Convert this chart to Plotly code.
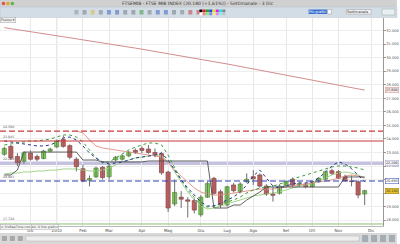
import plotly.graph_objects as go
import pandas as pd

# ---------------- data ----------------
weeks = pd.date_range("2009-11-09", periods=56, freq="7D").strftime("%Y-%m-%d").tolist()

opens = [22870, 23450, 22700, 22350, 22950, 22700, 22550, 23100, 23400, 23950,
         23500, 22500, 21800, 20950, 21200, 21900, 21210, 22450, 22500, 22750,
         23150, 23300, 23250, 23000, 22900, 21550, 19200, 19700, 19500, 19450,
         18400, 19700, 21090, 20100, 19120, 20600, 20100, 20840, 21210, 21340,
         20520, 19930, 19990, 20550, 21020, 20600, 20670, 20480, 20850, 21020,
         21650, 21580, 21210, 20900, 20840, 19930]
highs = [23420, 23550, 22950, 23100, 23150, 22850, 23200, 23350, 23950, 24250,
         23600, 22650, 22100, 21300, 21950, 22000, 22150, 22750, 22850, 23100,
         23300, 23450, 23550, 23300, 23050, 21650, 21000, 20150, 19700, 19600,
         19850, 20850, 21200, 20250, 20550, 20750, 20800, 21460, 21700, 21450,
         20650, 20600, 20650, 20950, 21150, 20850, 20800, 20950, 21200, 21650,
         21800, 21700, 21350, 21300, 20950, 20250]
lows = [22750, 22450, 22000, 22150, 22400, 22350, 22500, 23000, 23350, 23350,
        22500, 21600, 20800, 20500, 21100, 21000, 21000, 22350, 22400, 22650,
        22900, 22950, 22900, 22650, 21350, 18600, 19050, 18900, 18200, 18500,
        18260, 19650, 19900, 18880, 19000, 20050, 20000, 20750, 20600, 20400,
        19800, 19370, 19900, 20450, 20450, 20450, 20350, 20400, 20750, 20950,
        21350, 21050, 20850, 20500, 19620, 19120]
closes = [23300, 22600, 22250, 22980, 22500, 22500, 23100, 23250, 23850, 23450,
          22650, 21950, 20900, 21080, 21850, 21150, 22000, 22650, 22750, 23000,
          23000, 23150, 23000, 22800, 21500, 18900, 20050, 19550, 19400, 18750,
          19700, 20700, 19990, 19120, 20470, 20180, 20670, 21020, 21060, 20520,
          19930, 19840, 20520, 20850, 20580, 20700, 20480, 20850, 21090, 21580,
          21460, 21100, 20920, 20850, 19860, 20180]

ma200 = [32210, 32140, 32060, 31990, 31910, 31840, 31760, 31690, 31610, 31540,
         31460, 31390, 31310, 31240, 31160, 31080, 31010, 30930, 30850, 30780,
         30700, 30620, 30540, 30460, 30380, 30300, 30220, 30140, 30060, 29980,
         29890, 29800, 29710, 29620, 29530, 29440, 29350, 29260, 29170, 29080,
         28990, 28900, 28810, 28720, 28630, 28540, 28450, 28360, 28270, 28180,
         28090, 28000, 27900, 27800, 27700, 27600]
navy_line = [23850, 23770, 23700, 23620, 23550, 23480, 23480, 23550, 23770, 24070,
             24140, 23920, 23480, 22960, 22590, 22300, 22150, 22220, 22300, 22440,
             22590, 22660, 22740, 22810, 22960, 22440, 21700, 20970, 20380, 19860,
             19340, 19050, 19050, 19270, 19490, 19710, 20080, 20600, 21260, 21700,
             21110, 20520, 20380, 20520, 20670, 20750, 20750, 20820, 21110, 21550,
             22000, 22300, 22150, 21800, 21350, 20850]
green_dotted = [23550, 23620, 23700, 23770, 23850, 23850, 23920, 23990, 24140, 24290,
                24290, 24140, 23770, 23180, 22590, 22220, 22300, 22590, 22890, 23180,
                23400, 23550, 23700, 23700, 23550, 22810, 21850, 20970, 20230, 19640,
                19120, 18970, 19050, 19200, 19340, 19490, 19710, 20010, 20230, 20380,
                20450, 20520, 20670, 20820, 21040, 21190, 21340, 21480, 21630, 21780,
                21930, 22000, 22000, 21930, 21850, 21700]
green_solid = [21410, 21480, 21480, 21560, 21560, 21630, 21630, 21700, 21700, 21780,
               21780, 21780, 21700, 21630, 21630, 21700, 21850, 22070, 22300, 22440,
               22590, 22660, 22740, 22810, 22740, 22300, 21560, 20820, 20080, 19490,
               19050, 18830, 18900, 19050, 19200, 19340, 19490, 19640, 19790, 19860,
               19930, 20010, 20080, 20230, 20380, 20520, 20600, 20750, 20890, 21110,
               21340, 21480, 21560, 21480, 21340, 21110]
salmon_line = [None, None, None, None, None, None, None, None, None, None,
               None, 24580, 24440, 23920, 23480, 23330, 23260, 23180, 23110, 23030,
               22960, 22890, 22810, 22740, 22660, 22220, 21700, 21260, 20820, 20380,
               20080, 19930, 19860, 19860, 19930, 20010, 20080, 20160, 20230, 20300,
               20300, 20300, 20380, 20450, 20520, 20600, 20670, 20750, 20820, 20890,
               20970, 21110, 21260, 21340, 21260, 21110]
black_step = [21340, 21340, 21700, 23030, 23030, 23030, 23030, 23030, 23030, 23030,
              23030, 23030, 22440, 22440, 22440, 22300, 22300, 22300, 22300, 22300,
              22300, 22300, 22370, 22370, 22370, 22370, 22370, 22370, 22370, 22370,
              22370, 22370, 18900, 18900, 18900, 19120, 19120, 19490, 19790, 20080,
              20450, 20450, 20450, 20450, 20450, 20450, 20450, 20450, 20450, 20450,
              20450, 20450, 21190, 21190, 21190, 21190]

level_red_dash = 24580
level_red = 23845
level_band = 22200
level_blue_dash = 20893
level_green = 17720

month_ticks = ["2009-12-07", "2010-01-04", "2010-02-01", "2010-03-01", "2010-04-05",
               "2010-05-03", "2010-06-07", "2010-07-05", "2010-08-02", "2010-09-06",
               "2010-10-04", "2010-11-01", "2010-12-06"]
month_labels = ["Dic", "2010", "Feb", "Mar", "Apr", "Mag", "Giu", "Lug", "Ago", "Set",
                "Ott", "Nov", "Dic"]

title_text = "FTSEMIB - FTSE MIB INDEX (20.180 (+1,61%)) - Settimanale - 3 Dic"

UP_FILL, UP_LINE = "#7fd253", "#4a8a35"
DN_FILL, DN_LINE = "#d25e5e", "#8a3a3a"
WICK = "#6e6e6e"

# ---------------- figure ----------------
fig = go.Figure()

fig.add_trace(go.Scatter(x=weeks, y=ma200, mode="lines",
                         line=dict(color="#d38c8c", width=1), showlegend=False))
fig.add_trace(go.Scatter(x=weeks, y=green_solid, mode="lines",
                         line=dict(color="#a3d68a", width=1), showlegend=False))
fig.add_trace(go.Scatter(x=weeks, y=salmon_line, mode="lines",
                         line=dict(color="#e39a90", width=1), showlegend=False))
fig.add_trace(go.Scatter(x=weeks, y=black_step, mode="lines",
                         line=dict(color="#3a3a3a", width=0.8), showlegend=False))
fig.add_trace(go.Scatter(x=weeks, y=green_dotted, mode="lines",
                         line=dict(color="#3a9e3a", width=1, dash="dot"), showlegend=False))
fig.add_trace(go.Scatter(x=weeks, y=navy_line, mode="lines",
                         line=dict(color="#26348f", width=1, dash="dot"), showlegend=False))

# wicks
wx, wy = [], []
for d, h, l in zip(weeks, highs, lows):
    wx += [d, d, None]
    wy += [l, h, None]
fig.add_trace(go.Scatter(x=wx, y=wy, mode="lines", line=dict(color=WICK, width=1),
                         showlegend=False, hoverinfo="skip"))

# candle bodies
body_base = [min(o, c) for o, c in zip(opens, closes)]
body_len = [max(abs(c - o), 25) for o, c in zip(opens, closes)]
fills = [UP_FILL if c >= o else DN_FILL for o, c in zip(opens, closes)]
edges = [UP_LINE if c >= o else DN_LINE for o, c in zip(opens, closes)]
fig.add_trace(go.Bar(x=weeks, y=body_len, base=body_base, width=4.4 * 86400000,
                     marker=dict(color=fills, line=dict(color=edges, width=0.7)),
                     showlegend=False))

shapes = []
shapes.append(dict(type="line", xref="paper", x0=0, x1=1, yref="y", y0=level_band, y1=level_band,
                   line=dict(color="#c4c2de", width=3.5), layer="below"))
shapes.append(dict(type="line", xref="paper", x0=0, x1=1, yref="y", y0=level_red_dash, y1=level_red_dash,
                   line=dict(color="#cc3838", width=1.2, dash="6px,3px")))
shapes.append(dict(type="line", xref="paper", x0=0, x1=1, yref="y", y0=level_red, y1=level_red,
                   line=dict(color="#cc3838", width=1.2)))
shapes.append(dict(type="line", xref="paper", x0=0, x1=1, yref="y", y0=level_blue_dash, y1=level_blue_dash,
                   line=dict(color="#2f3fb8", width=1.2, dash="6px,3px")))
shapes.append(dict(type="line", xref="paper", x0=0, x1=1, yref="y", y0=level_green, y1=level_green,
                   line=dict(color="#8cc070", width=1)))
shapes.append(dict(type="line", xref="x", x0="2010-01-04", x1="2010-01-04", yref="paper", y0=0, y1=1,
                   line=dict(color="#c4c4c4", width=1), layer="below"))

def px_x(p):
    return p / 386.0

def px_y(p):
    return (226.0 - p) / 208.0

shapes.append(dict(type="rect", xref="paper", yref="paper", x0=px_x(0), x1=px_x(400),
                   y0=px_y(7), y1=px_y(0), fillcolor="#d0d0d0", line=dict(width=0), layer="above"))
shapes.append(dict(type="rect", xref="paper", yref="paper", x0=px_x(0), x1=px_x(400),
                   y0=px_y(17.5), y1=px_y(7), fillcolor="#d3dde6", line=dict(color="#b9c3cc", width=0.5), layer="above"))
for cx, col in [(3.5, "#e0524a"), (8, "#e0a62c"), (12.5, "#5cb84a")]:
    shapes.append(dict(type="circle", xref="paper", yref="paper", x0=px_x(cx - 1.8), x1=px_x(cx + 1.8),
                       y0=px_y(5.3), y1=px_y(1.7), fillcolor=col, line=dict(width=0), layer="above"))
icon_cols = ["#8a8f96", "#707a86", "#d8b840", "#7a8088", "#3f63c0", "#3f63c0", "#707a86", "#707a86",
             "#3f9a3f", "#7a8088", "#3f63c0", "#3f63c0", "#707a86", "#7a8088", "#c04040", "#c04040"]
for i, col in enumerate(icon_cols):
    x0 = 75 + i * 8.2
    shapes.append(dict(type="rect", xref="paper", yref="paper", x0=px_x(x0), x1=px_x(x0 + 4),
                       y0=px_y(14.5), y1=px_y(10), fillcolor=col, opacity=0.55, line=dict(width=0), layer="above"))
pal = ["#000000", "#e02020", "#20a020", "#2040e0", "#e0e020", "#e020e0", "#20e0e0", "#808080",
       "#ffffff", "#f08080", "#80f080", "#8080f0", "#f0f080", "#f080f0", "#80f0f0", "#c0c0c0"]
for i, col in enumerate(pal):
    r, c = divmod(i, 8)
    x0 = 201 + c * 3.3
    y0 = 9.5 + r * 3
    shapes.append(dict(type="rect", xref="paper", yref="paper", x0=px_x(x0), x1=px_x(x0 + 3),
                       y0=px_y(y0 + 2.7), y1=px_y(y0), fillcolor=col, line=dict(width=0), layer="above"))
shapes.append(dict(type="rect", xref="paper", yref="paper", x0=px_x(311), x1=px_x(330),
                   y0=px_y(14), y1=px_y(9.5), fillcolor="#3a6fd0", line=dict(width=0), layer="above"))
shapes.append(dict(type="rect", xref="paper", yref="paper", x0=px_x(330), x1=px_x(334),
                   y0=px_y(14), y1=px_y(9.5), fillcolor="#ffffff", line=dict(color="#999", width=0.5), layer="above"))
shapes.append(dict(type="rect", xref="paper", yref="paper", x0=px_x(349), x1=px_x(374),
                   y0=px_y(14), y1=px_y(9.5), fillcolor="#f4f4f4", line=dict(color="#999", width=0.5), layer="above"))
shapes.append(dict(type="rect", xref="paper", yref="paper", x0=px_x(385), x1=px_x(398),
                   y0=px_y(15), y1=px_y(9), fillcolor="#e8eef2", line=dict(color="#9aa", width=0.5), layer="above"))
shapes.append(dict(type="rect", xref="paper", yref="paper", x0=px_x(0), x1=px_x(400),
                   y0=px_y(244), y1=px_y(233), fillcolor="#d8d8d8", line=dict(width=0), layer="above"))
shapes.append(dict(type="rect", xref="paper", yref="paper", x0=px_x(26), x1=px_x(362),
                   y0=px_y(241), y1=px_y(236), fillcolor="#eeeeee", line=dict(color="#b0b0b0", width=0.5), layer="above"))
for i in range(3):
    x0 = 2 + i * 8
    shapes.append(dict(type="rect", xref="paper", yref="paper", x0=px_x(x0), x1=px_x(x0 + 5),
                       y0=px_y(241), y1=px_y(236), fillcolor="#8a8a8a", opacity=0.6, line=dict(width=0), layer="above"))
for i in range(4):
    x0 = 365 + i * 9
    shapes.append(dict(type="rect", xref="paper", yref="paper", x0=px_x(x0), x1=px_x(x0 + 6),
                       y0=px_y(242), y1=px_y(235), fillcolor="#6f7f8f", opacity=0.5, line=dict(width=0), layer="above"))

annotations = []
annotations.append(dict(xref="paper", yref="paper", x=px_x(200), y=px_y(3.5), text=title_text,
                        showarrow=False, font=dict(size=4.5, color="#333333"), xanchor="center", yanchor="middle"))
annotations.append(dict(xref="paper", yref="paper", x=px_x(320), y=px_y(11.7), text="Più grafici",
                        showarrow=False, font=dict(size=3.5, color="#ffffff"), xanchor="center", yanchor="middle"))
annotations.append(dict(xref="paper", yref="paper", x=px_x(360), y=px_y(11.7), text="Settimanale",
                        showarrow=False, font=dict(size=3.5, color="#333333"), xanchor="center", yanchor="middle"))
annotations.append(dict(xref="paper", yref="paper", x=px_x(0.5), y=px_y(20.5), text="Prezzo ▾",
                        showarrow=False, font=dict(size=3.3, color="#444"), xanchor="left", yanchor="middle",
                        bgcolor="#eeeeee", bordercolor="#aaaaaa", borderwidth=0.5, borderpad=0.5))
annotations.append(dict(xref="paper", yref="paper", x=px_x(0.5), y=px_y(226.5), text="© ProRealTime.com",
                        showarrow=False, font=dict(size=3, color="#444"), xanchor="left", yanchor="middle",
                        bgcolor="#f4f4f4", bordercolor="#aaaaaa", borderwidth=0.5, borderpad=0.3))
annotations.append(dict(xref="paper", yref="paper", x=px_x(31), y=px_y(226.5), text="Alt. G fine grafico",
                        showarrow=False, font=dict(size=3, color="#444"), xanchor="left", yanchor="middle",
                        bgcolor="#f4f4f4", bordercolor="#aaaaaa", borderwidth=0.5, borderpad=0.3))

def fmt(v):
    return f"{v:,.0f}".replace(",", ".")

for lv in [level_red_dash, level_red, level_band, level_blue_dash, level_green]:
    annotations.append(dict(xref="paper", yref="y", x=0.002, y=lv, text=fmt(lv), showarrow=False,
                            font=dict(size=3.2, color="#555"), xanchor="left", yanchor="bottom", yshift=0.5))

right_boxes = [(ma200[-1], "#f6e6e6", "#c98c8c"), (level_band, "#eeeef6", "#b0a8c8"),
               (level_blue_dash, "#ffffff", "#3040b0"), (closes[-1], "#e6c02a", "#9a7a10")]
for v, bg, bd in right_boxes:
    annotations.append(dict(xref="paper", yref="y", x=1.0, y=v, text=fmt(v), showarrow=False,
                            font=dict(size=3.4, color="#333"), xanchor="left", yanchor="middle", xshift=1.5,
                            bgcolor=bg, bordercolor=bd, borderwidth=0.5, borderpad=0.4))

fig.update_layout(
    width=400, height=244,
    margin=dict(l=0, r=14, t=18, b=18),
    paper_bgcolor="#ffffff", plot_bgcolor="#ffffff",
    font=dict(family="DejaVu Sans, Liberation Sans, sans-serif", size=4, color="#444"),
    separators=",.",
    shapes=shapes, annotations=annotations,
    showlegend=False,
    xaxis=dict(type="date", range=["2009-11-04 10:00", "2010-12-18 14:00"],
               tickmode="array", tickvals=month_ticks, ticktext=month_labels,
               showgrid=True, gridcolor="#e8e8e8", gridwidth=1,
               tickfont=dict(size=4, color="#444"), ticks="", ticklen=0,
               showline=True, linecolor="#bbbbbb", linewidth=1, zeroline=False),
    yaxis=dict(side="right", range=[17572, 32923], dtick=1000, tick0=0,
               tickformat=",.0f", showgrid=True, gridcolor="#eeeeee", gridwidth=1,
               tickfont=dict(size=3.6, color="#555"), ticks="outside", ticklen=1.5, tickcolor="#999",
               showline=True, linecolor="#999999", linewidth=1, zeroline=False),
)

fig.write_html("out.html")
